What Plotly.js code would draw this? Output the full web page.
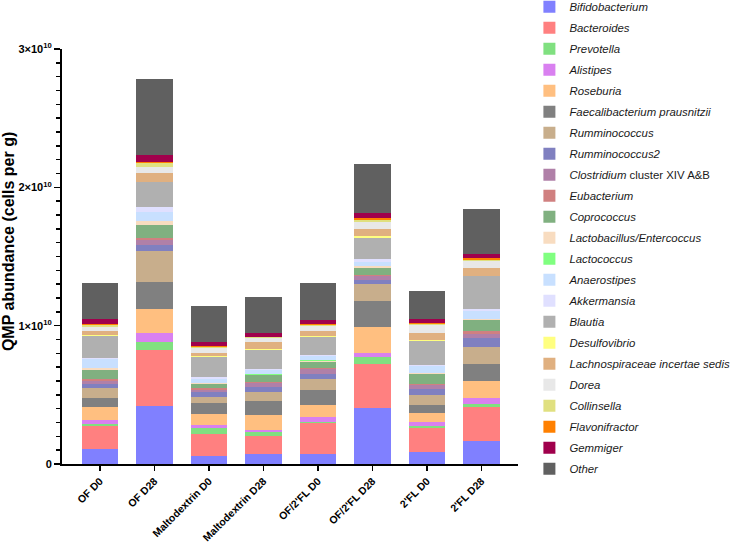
<!DOCTYPE html>
<html>
<head>
<meta charset="utf-8">
<script src="https://cdn.plot.ly/plotly-3.0.1.min.js"></script>
<style>
  html, body { margin: 0; padding: 0; background: #fff; }
  #plot1 { width: 731px; height: 546px; }
</style>
</head>
<body>
<div id="plot1"></div>
<script>
// sample groups on the x axis
var groups = ["OF D0", "OF D28", "Maltodextrin D0", "Maltodextrin D28",
  "OF/2'FL D0", "OF/2'FL D28", "2'FL D0", "2'FL D28"];

// abundances, in units of 1e9 cells per g
var bifidobacterium = [1.08, 4.21, 0.60, 0.70, 0.75, 4.04, 0.89, 1.68];
var bacteroides     = [1.69, 4.04, 1.54, 1.30, 2.21, 3.18, 1.73, 2.45];
var prevotella      = [0.10, 0.58, 0.43, 0.34, 0.10, 0.48, 0.10, 0.19];
var alistipes       = [0.34, 0.65, 0.24, 0.14, 0.34, 0.36, 0.31, 0.43];
var roseburia       = [0.94, 1.73, 0.82, 1.08, 0.84, 1.85, 0.63, 1.25];
var faecalibacterium = [0.60, 1.93, 0.75, 1.01, 1.13, 1.88, 0.63, 1.25];
var rumminococcus   = [0.77, 2.26, 0.48, 0.63, 0.79, 1.20, 0.70, 1.20];
var rumminococcus2  = [0.29, 0.43, 0.31, 0.38, 0.34, 0.34, 0.46, 0.65];
var clostridium     = [0.22, 0.34, 0.19, 0.29, 0.38, 0.24, 0.24, 0.31];
var eubacterium     = [0.12, 0.19, 0.10, 0.07, 0.07, 0.12, 0.12, 0.19];
var coprococcus     = [0.67, 0.91, 0.34, 0.46, 0.46, 0.51, 0.70, 0.79];
var lactobacillus   = [0.10, 0.29, 0.05, 0.07, 0.07, 0.12, 0.05, 0.07];
var lactococcus     = [0.02, 0.02, 0.02, 0.02, 0.02, 0.02, 0.02, 0.02];
var anaerostipes    = [0.67, 0.67, 0.29, 0.34, 0.31, 0.29, 0.48, 0.58];
var akkermansia     = [0.07, 0.34, 0.10, 0.07, 0.07, 0.19, 0.07, 0.12];
var blautia         = [1.56, 1.76, 1.47, 1.37, 1.28, 1.54, 1.76, 2.38];
var desulfovibrio   = [0.05, 0.07, 0.07, 0.07, 0.07, 0.12, 0.05, 0.05];
var lachnospiraceae = [0.34, 0.60, 0.26, 0.51, 0.41, 0.53, 0.53, 0.55];
var dorea           = [0.31, 0.48, 0.34, 0.24, 0.34, 0.46, 0.55, 0.48];
var collinsella     = [0.10, 0.24, 0.05, 0.07, 0.07, 0.19, 0.12, 0.12];
var flavonifractor  = [0.07, 0.07, 0.05, 0.05, 0.07, 0.10, 0.07, 0.10];
var gemmiger        = [0.38, 0.55, 0.29, 0.26, 0.29, 0.41, 0.29, 0.34];
var other           = [2.57, 5.50, 2.60, 2.60, 2.66, 3.51, 2.04, 3.25];

// y axis ticks
var yTickVals = [0, 1e10, 2e10, 3e10];
var yTickText = ["0", "1×10<sup>10</sup>", "2×10<sup>10</sup>", "3×10<sup>10</sup>"];

// series in stacking order (bottom first) with their legend colour
var series = [
  ["<i>Bifidobacterium</i>", bifidobacterium, "#8080FF"],
  ["<i>Bacteroides</i>", bacteroides, "#FF8080"],
  ["<i>Prevotella</i>", prevotella, "#80E080"],
  ["<i>Alistipes</i>", alistipes, "#D980F0"],
  ["<i>Roseburia</i>", roseburia, "#FFBF80"],
  ["<i>Faecalibacterium prausnitzii</i>", faecalibacterium, "#808080"],
  ["<i>Rumminococcus</i>", rumminococcus, "#C8AE8C"],
  ["<i>Rumminococcus2</i>", rumminococcus2, "#8080C0"],
  ["<i>Clostridium</i> cluster XIV A&amp;B", clostridium, "#B080A8"],
  ["<i>Eubacterium</i>", eubacterium, "#D08080"],
  ["<i>Coprococcus</i>", coprococcus, "#80B080"],
  ["<i>Lactobacillus/Entercoccus</i>", lactobacillus, "#F8DCC0"],
  ["<i>Lactococcus</i>", lactococcus, "#80FF80"],
  ["<i>Anaerostipes</i>", anaerostipes, "#C8E0FF"],
  ["<i>Akkermansia</i>", akkermansia, "#E0E0FF"],
  ["<i>Blautia</i>", blautia, "#B0B0B0"],
  ["<i>Desulfovibrio</i>", desulfovibrio, "#FFFF80"],
  ["<i>Lachnospiraceae incertae sedis</i>", lachnospiraceae, "#E0B080"],
  ["<i>Dorea</i>", dorea, "#E8E8E8"],
  ["<i>Collinsella</i>", collinsella, "#E0E080"],
  ["<i>Flavonifractor</i>", flavonifractor, "#FF8000"],
  ["<i>Gemmiger</i>", gemmiger, "#A0004C"],
  ["<i>Other</i>", other, "#606060"]
];

function draw() {
  try {
    var data = series.map(function (s, i) {
      return {
        type: 'bar',
        name: s[0],
        legendgroup: 'g' + i,
        x: groups,
        y: s[1].map(function (v) { return v * 1e9; }),
        width: 0.67,
        marker: { color: s[2], line: { width: 0 } }
      };
    });

    var fam = 'Liberation Sans, Arial, sans-serif';

    var layout = {
      width: 731,
      height: 546,
      margin: { l: 62, r: 213, t: 49, b: 82, autoexpand: false },
      barmode: 'stack',
      paper_bgcolor: '#fff',
      plot_bgcolor: '#fff',
      font: { family: fam, color: '#000' },
      showlegend: true,
      legend: {
        x: 1.025, y: 1.137, xanchor: 'left', yanchor: 'top',
        traceorder: 'grouped', tracegroupgap: 2,
        maxheight: 546,
        font: { family: fam, size: 11.4, color: '#1a1a1a' },
        itemwidth: 30
      },
      xaxis: {
        type: 'category',
        range: [-0.697, 7.67],
        showline: true, linecolor: '#000', linewidth: 2,
        ticks: 'outside', ticklen: 5, tickwidth: 1.5, tickcolor: '#000',
        tickangle: -45,
        tickfont: { family: fam, size: 10.5, color: '#000', weight: 'bold' },
        showgrid: false, zeroline: false
      },
      yaxis: {
        range: [0, 3e10],
        tickmode: 'array', tickvals: yTickVals, ticktext: yTickText,
        showline: true, linecolor: '#000', linewidth: 2,
        ticks: 'outside', ticklen: 6, tickwidth: 1.5, tickcolor: '#000',
        minor: { tickmode: 'linear', tick0: 0, dtick: 1e9, ticks: 'outside', ticklen: 4, tickwidth: 1.5, tickcolor: '#000' },
        tickfont: { family: fam, size: 11, color: '#000', weight: 'bold' },
        showgrid: false, zeroline: false
      },
      annotations: [{
        text: 'QMP abundance (cells per g)',
        xref: 'paper', yref: 'paper',
        x: -0.116, y: 0.535, xanchor: 'center', yanchor: 'middle',
        textangle: -90, showarrow: false,
        font: { family: fam, size: 16, color: '#000', weight: 'bold' }
      }]
    };

    Plotly.newPlot('plot1', data, layout, { staticPlot: true });
  }
  catch (err) {
    console.error(err);
  }
}
draw();
</script>
</body>
</html>
